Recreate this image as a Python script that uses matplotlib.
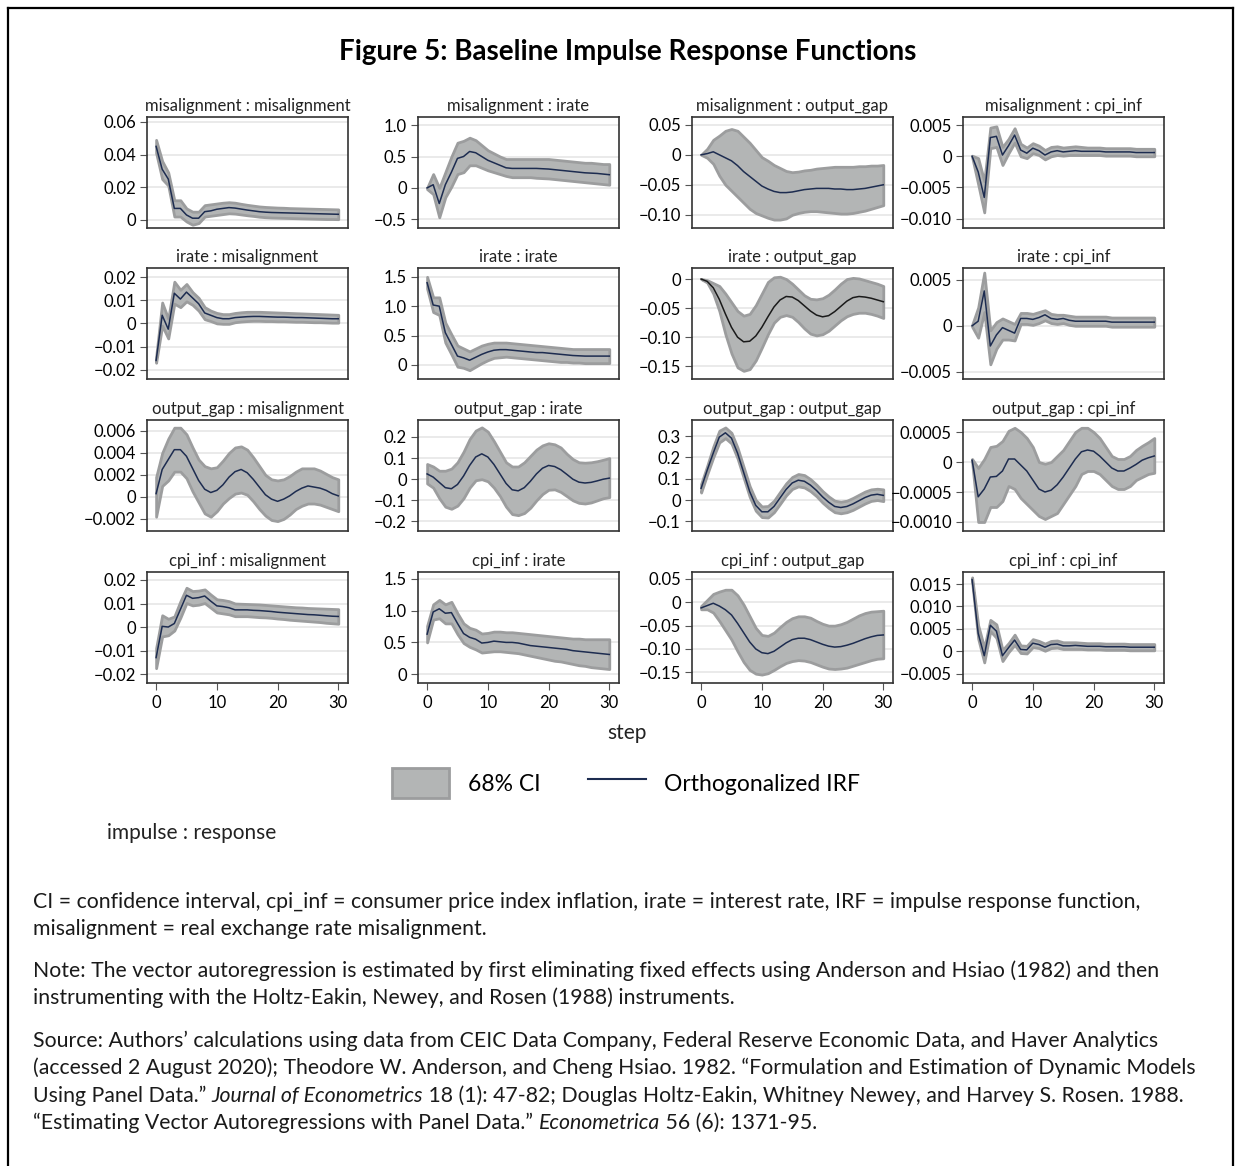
import numpy as np
import matplotlib
matplotlib.use("Agg")
import matplotlib.pyplot as plt
from matplotlib.patches import Patch
from matplotlib.lines import Line2D

plt.rcParams['font.family'] = ['Lato', 'DejaVu Sans']

steps = np.arange(0, 31)
xticks = [0, 10, 20, 30]

# --- impulse : response data (irf, lower, upper of 68% CI) ---
irf_mis_mis = [0.045, 0.031, 0.025, 0.007, 0.007, 0.003, 0.001, 0.001, 0.005, 0.0055, 0.0065, 0.007, 0.0075, 0.0072, 0.0066, 0.006,
               0.0055, 0.005, 0.0047, 0.0045, 0.0044, 0.0043, 0.0042, 0.0041, 0.004, 0.0039, 0.0038, 0.0037, 0.0036, 0.0035, 0.0034]
hi_mis_mis = [0.049, 0.036, 0.029, 0.012, 0.012, 0.007, 0.005, 0.005, 0.009, 0.0095, 0.010, 0.0105, 0.0108, 0.0105, 0.0098, 0.0092,
              0.0087, 0.0082, 0.0079, 0.0077, 0.0075, 0.0074, 0.0072, 0.0071, 0.007, 0.0069, 0.0068, 0.0067, 0.0066, 0.0065, 0.0064]
lo_mis_mis = [0.041, 0.025, 0.021, 0.002, 0.002, -0.001, -0.003, -0.002, 0.002, 0.0025, 0.003, 0.0035, 0.004, 0.0038, 0.0033, 0.0028,
              0.0024, 0.0019, 0.0016, 0.0014, 0.0013, 0.0012, 0.0011, 0.0010, 0.0009, 0.0008, 0.0007, 0.0006, 0.0005, 0.0005, 0.0004]

irf_mis_ir = [0.0, 0.05, -0.25, 0.05, 0.25, 0.47, 0.5, 0.58, 0.56, 0.5, 0.44, 0.4, 0.36, 0.32, 0.31, 0.31,
              0.31, 0.31, 0.31, 0.305, 0.3, 0.29, 0.28, 0.27, 0.26, 0.25, 0.24, 0.235, 0.23, 0.22, 0.21]
hi_mis_ir = [0.0, 0.22, 0.0, 0.25, 0.5, 0.72, 0.75, 0.8, 0.76, 0.68, 0.6, 0.55, 0.5, 0.46, 0.46, 0.46,
             0.46, 0.46, 0.46, 0.46, 0.46, 0.45, 0.44, 0.43, 0.42, 0.41, 0.4, 0.4, 0.39, 0.38, 0.38]
lo_mis_ir = [-0.02, -0.1, -0.47, -0.15, 0.02, 0.22, 0.25, 0.36, 0.36, 0.32, 0.28, 0.25, 0.22, 0.19, 0.17, 0.17,
             0.17, 0.17, 0.16, 0.155, 0.15, 0.14, 0.13, 0.12, 0.11, 0.1, 0.09, 0.08, 0.07, 0.06, 0.05]

irf_mis_og = [0.0, 0.002, 0.005, 0.0, -0.005, -0.01, -0.018, -0.028, -0.036, -0.044, -0.052, -0.057, -0.061, -0.063, -0.063, -0.062,
              -0.06, -0.058, -0.057, -0.056, -0.056, -0.056, -0.057, -0.057, -0.058, -0.058, -0.057, -0.056, -0.054, -0.052, -0.05]
hi_mis_og = [0.0, 0.01, 0.025, 0.032, 0.04, 0.043, 0.04, 0.03, 0.02, 0.008, -0.004, -0.01, -0.017, -0.022, -0.027, -0.029,
             -0.028, -0.026, -0.025, -0.023, -0.022, -0.021, -0.02, -0.02, -0.02, -0.02, -0.019, -0.019, -0.018, -0.018, -0.017]
lo_mis_og = [0.0, -0.005, -0.015, -0.035, -0.05, -0.06, -0.07, -0.08, -0.09, -0.097, -0.101, -0.105, -0.108, -0.108, -0.106, -0.1,
             -0.097, -0.095, -0.094, -0.094, -0.095, -0.096, -0.097, -0.098, -0.098, -0.097, -0.095, -0.093, -0.09, -0.087, -0.084]

irf_mis_cpi = [0.0, -0.0025, -0.0066, 0.003, 0.0032, 0.0002, 0.0017, 0.0034, 0.001, 0.0005, 0.0013, 0.0009, 0.0002, 0.0007, 0.0009, 0.0007,
               0.0008, 0.0009, 0.0008, 0.0008, 0.0008, 0.0008, 0.0007, 0.0007, 0.0007, 0.0007, 0.0007, 0.0006, 0.0006, 0.0006, 0.0006]
hi_mis_cpi = [0.0001, -0.0003, -0.004, 0.0046, 0.0048, 0.0015, 0.0028, 0.0045, 0.002, 0.0014, 0.0021, 0.0017, 0.001, 0.0015, 0.0016, 0.0014,
              0.0015, 0.0016, 0.0015, 0.0014, 0.0014, 0.0014, 0.0013, 0.0013, 0.0013, 0.0013, 0.0013, 0.0012, 0.0012, 0.0012, 0.0012]
lo_mis_cpi = [-0.0001, -0.0045, -0.009, 0.0013, 0.0015, -0.0014, 0.0005, 0.0022, 0.0, -0.0003, 0.0005, 0.0002, -0.0005, 0.0, 0.0002, 0.0001,
              0.0002, 0.0002, 0.0002, 0.0002, 0.0002, 0.0002, 0.0001, 0.0001, 0.0001, 0.0001, 0.0001, 0.0, 0.0, 0.0, 0.0]

irf_ir_mis = [-0.016, 0.0035, -0.0025, 0.013, 0.0105, 0.0135, 0.011, 0.0085, 0.0045, 0.0035, 0.0025, 0.002, 0.002, 0.0025, 0.0027, 0.0029,
              0.003, 0.003, 0.0029, 0.0028, 0.0027, 0.0027, 0.0026, 0.0025, 0.0025, 0.0024, 0.0023, 0.0022, 0.0021, 0.002, 0.002]
hi_ir_mis = [-0.0145, 0.009, 0.002, 0.018, 0.0145, 0.017, 0.0135, 0.011, 0.007, 0.0055, 0.0045, 0.004, 0.004, 0.0045, 0.0048, 0.005,
             0.005, 0.005, 0.0049, 0.0048, 0.0047, 0.0046, 0.0045, 0.0044, 0.0043, 0.0042, 0.0041, 0.004, 0.0039, 0.0038, 0.0037]
lo_ir_mis = [-0.017, -0.001, -0.0065, 0.0085, 0.007, 0.0095, 0.008, 0.0055, 0.0018, 0.001, 0.0, -0.0002, -0.0002, 0.0005, 0.0008, 0.001,
             0.0011, 0.0011, 0.001, 0.001, 0.0009, 0.0009, 0.0008, 0.0007, 0.0007, 0.0006, 0.0005, 0.0005, 0.0004, 0.0003, 0.0003]

irf_ir_ir = [1.4, 1.02, 1.0, 0.55, 0.35, 0.15, 0.12, 0.08, 0.13, 0.18, 0.22, 0.25, 0.26, 0.26, 0.25, 0.24,
             0.23, 0.22, 0.21, 0.21, 0.2, 0.19, 0.18, 0.17, 0.16, 0.155, 0.15, 0.15, 0.15, 0.15, 0.15]
hi_ir_ir = [1.5, 1.15, 1.15, 0.72, 0.52, 0.33, 0.28, 0.23, 0.28, 0.33, 0.36, 0.38, 0.38, 0.38, 0.37, 0.36,
            0.35, 0.34, 0.33, 0.32, 0.31, 0.3, 0.29, 0.28, 0.27, 0.27, 0.27, 0.27, 0.27, 0.27, 0.27]
lo_ir_ir = [1.3, 0.9, 0.85, 0.38, 0.18, -0.03, -0.05, -0.09, -0.03, 0.03, 0.08, 0.12, 0.13, 0.14, 0.13, 0.12,
            0.11, 0.1, 0.09, 0.08, 0.07, 0.06, 0.05, 0.05, 0.04, 0.04, 0.03, 0.03, 0.03, 0.03, 0.03]

irf_ir_og = [0.0, -0.004, -0.015, -0.035, -0.06, -0.083, -0.1, -0.108, -0.107, -0.098, -0.083, -0.065, -0.048, -0.036, -0.03, -0.031,
             -0.037, -0.046, -0.055, -0.062, -0.065, -0.063, -0.056, -0.047, -0.038, -0.032, -0.03, -0.031, -0.033, -0.036, -0.039]
hi_ir_og = [0.0, -0.002, -0.007, -0.012, -0.025, -0.04, -0.055, -0.063, -0.06, -0.045, -0.025, -0.005, 0.003, 0.004, 0.0, -0.008,
            -0.018, -0.028, -0.034, -0.035, -0.033, -0.027, -0.018, -0.008, 0.0, 0.002, 0.001, -0.002, -0.005, -0.008, -0.012]
lo_ir_og = [0.0, -0.006, -0.025, -0.055, -0.095, -0.128, -0.152, -0.158, -0.155, -0.14, -0.118, -0.095, -0.075, -0.065, -0.062, -0.065,
            -0.074, -0.085, -0.094, -0.097, -0.095, -0.089, -0.08, -0.071, -0.064, -0.06, -0.058, -0.058, -0.06, -0.063, -0.067]

irf_ir_cpi = [0.0, 0.0005, 0.0038, -0.0022, -0.001, -0.0002, -0.0005, -0.0008, 0.0008, 0.0008, 0.0007, 0.0009, 0.0012, 0.0008, 0.0007, 0.0008,
              0.0006, 0.0005, 0.0005, 0.0005, 0.0005, 0.0005, 0.0005, 0.0004, 0.0004, 0.0004, 0.0004, 0.0004, 0.0004, 0.0004, 0.0004]
hi_ir_cpi = [0.0001, 0.002, 0.0058, -0.0005, 0.0004, 0.0008, 0.0005, 0.0002, 0.0014, 0.0014, 0.0013, 0.0015, 0.0017, 0.0013, 0.0012, 0.0012,
             0.0011, 0.001, 0.001, 0.001, 0.001, 0.001, 0.001, 0.0009, 0.0009, 0.0009, 0.0009, 0.0009, 0.0009, 0.0009, 0.0009]
lo_ir_cpi = [-0.0001, -0.0013, 0.0015, -0.0042, -0.0025, -0.0015, -0.0015, -0.0016, 0.0002, 0.0002, 0.0001, 0.0003, 0.0006, 0.0003, 0.0002, 0.0003,
             0.0001, 0.0, 0.0, 0.0, 0.0, 0.0, 0.0, -0.0001, -0.0001, -0.0001, -0.0001, -0.0001, -0.0001, -0.0001, -0.0001]

irf_og_mis = [0.0003, 0.0025, 0.0034, 0.0043, 0.0043, 0.0037, 0.0026, 0.0015, 0.0007, 0.0004, 0.0006, 0.0011, 0.0018, 0.0023, 0.0025, 0.0022,
              0.0016, 0.0009, 0.0002, -0.0002, -0.0004, -0.0002, 0.0001, 0.0005, 0.0008, 0.001, 0.0009, 0.0008, 0.0006, 0.0003, 0.0001]
hi_og_mis = [0.0018, 0.004, 0.0053, 0.0063, 0.0063, 0.0057, 0.0045, 0.0034, 0.0028, 0.0026, 0.0027, 0.0033, 0.004, 0.0045, 0.0046, 0.0043,
             0.0036, 0.0028, 0.002, 0.0016, 0.0015, 0.0016, 0.0019, 0.0023, 0.0026, 0.0026, 0.0026, 0.0024, 0.0021, 0.0018, 0.0016]
lo_og_mis = [-0.0018, 0.001, 0.0015, 0.0023, 0.0023, 0.0017, 0.0005, -0.0005, -0.0015, -0.0018, -0.0013, -0.0006, -0.0001, 0.0003, 0.0004, 0.0002,
             -0.0004, -0.0011, -0.0017, -0.0021, -0.0022, -0.002, -0.0016, -0.0011, -0.0008, -0.0006, -0.0006, -0.0007, -0.0009, -0.0011, -0.0013]

irf_og_ir = [0.025, 0.01, -0.015, -0.04, -0.045, -0.025, 0.015, 0.065, 0.105, 0.12, 0.105, 0.07, 0.025, -0.02, -0.05, -0.055,
             -0.04, -0.01, 0.025, 0.052, 0.065, 0.06, 0.045, 0.023, 0.0, -0.014, -0.018, -0.015, -0.008, 0.0, 0.005]
hi_og_ir = [0.072, 0.06, 0.04, 0.04, 0.05, 0.08, 0.13, 0.19, 0.23, 0.245, 0.225, 0.18, 0.13, 0.08, 0.06, 0.06,
            0.08, 0.11, 0.14, 0.16, 0.17, 0.165, 0.15, 0.12, 0.095, 0.08, 0.078, 0.08, 0.085, 0.092, 0.1]
lo_og_ir = [-0.02, -0.04, -0.09, -0.13, -0.14, -0.125, -0.09, -0.04, -0.005, 0.0, -0.01, -0.04, -0.08, -0.13, -0.165, -0.17,
            -0.16, -0.135, -0.1, -0.07, -0.05, -0.048, -0.06, -0.08, -0.1, -0.112, -0.115, -0.11, -0.1, -0.09, -0.085]

irf_og_og = [0.055, 0.14, 0.22, 0.295, 0.315, 0.29, 0.22, 0.13, 0.04, -0.025, -0.055, -0.055, -0.03, 0.01, 0.05, 0.08,
             0.093, 0.088, 0.07, 0.045, 0.015, -0.01, -0.03, -0.035, -0.03, -0.018, -0.003, 0.012, 0.023, 0.027, 0.022]
hi_og_og = [0.075, 0.16, 0.25, 0.325, 0.34, 0.315, 0.245, 0.155, 0.065, 0.0, -0.03, -0.028, -0.003, 0.038, 0.078, 0.108,
            0.122, 0.117, 0.098, 0.072, 0.042, 0.017, -0.003, -0.008, -0.003, 0.01, 0.025, 0.04, 0.05, 0.053, 0.05]
lo_og_og = [0.035, 0.12, 0.2, 0.27, 0.29, 0.265, 0.195, 0.105, 0.015, -0.05, -0.08, -0.082, -0.057, -0.018, 0.022, 0.052,
            0.064, 0.059, 0.042, 0.018, -0.012, -0.037, -0.057, -0.062, -0.057, -0.046, -0.031, -0.016, -0.004, 0.0, -0.005]

irf_og_cpi = [0.00003, -0.00058, -0.00045, -0.00025, -0.00024, -0.00015, 0.00005, 0.00005, -0.00005, -0.00015, -0.0003, -0.00045, -0.0005, -0.00047, -0.00038, -0.00025,
              -0.0001, 0.00005, 0.00017, 0.0002, 0.00018, 0.0001, 0.0, -0.0001, -0.00015, -0.00015, -0.0001, -0.00004, 0.00003, 0.00007, 0.0001]
hi_og_cpi = [0.00005, -0.0001, 0.00005, 0.00025, 0.00027, 0.00035, 0.00052, 0.00057, 0.0005, 0.0004, 0.00025, 0.0, -0.00003, 0.0, 0.0001, 0.0002,
             0.00035, 0.0005, 0.00057, 0.00057, 0.0005, 0.0004, 0.00025, 0.0001, 0.00005, 0.00005, 0.0001, 0.0002, 0.00027, 0.00033, 0.0004]
lo_og_cpi = [0.0, -0.001, -0.001, -0.00075, -0.00075, -0.00065, -0.0004, -0.00045, -0.0006, -0.0007, -0.0008, -0.0009, -0.00095, -0.0009, -0.00085, -0.0007,
             -0.00055, -0.0004, -0.0002, -0.00015, -0.00015, -0.0002, -0.0003, -0.0004, -0.00045, -0.00045, -0.0004, -0.0003, -0.00025, -0.0002, -0.00018]

irf_cpi_mis = [-0.013, 0.0003, 0.0, 0.0015, 0.0075, 0.0135, 0.0122, 0.0125, 0.0132, 0.011, 0.009, 0.0087, 0.0082, 0.0073, 0.0073, 0.0073,
               0.0071, 0.007, 0.0068, 0.0066, 0.0063, 0.0061, 0.0059, 0.0057, 0.0055, 0.0053, 0.0052, 0.005, 0.0048, 0.0046, 0.0045]
hi_cpi_mis = [-0.009, 0.005, 0.0035, 0.0045, 0.011, 0.0167, 0.0153, 0.0155, 0.016, 0.0138, 0.0118, 0.0115, 0.011, 0.01, 0.0099, 0.0098,
              0.0097, 0.0096, 0.0094, 0.0092, 0.009, 0.0088, 0.0086, 0.0084, 0.0083, 0.0081, 0.008, 0.0079, 0.0078, 0.0077, 0.0076]
lo_cpi_mis = [-0.0175, -0.004, -0.0035, -0.0015, 0.004, 0.0102, 0.0092, 0.0095, 0.0102, 0.0082, 0.0062, 0.0058, 0.0054, 0.0046, 0.0046, 0.0046,
              0.0044, 0.0042, 0.0041, 0.0039, 0.0036, 0.0034, 0.0031, 0.0029, 0.0027, 0.0025, 0.0023, 0.0021, 0.0018, 0.0016, 0.0014]

irf_cpi_ir = [0.63, 0.98, 1.03, 0.96, 0.97, 0.8, 0.64, 0.58, 0.55, 0.49, 0.5, 0.52, 0.51, 0.5, 0.5, 0.49,
              0.47, 0.45, 0.44, 0.43, 0.42, 0.41, 0.4, 0.39, 0.37, 0.36, 0.35, 0.34, 0.33, 0.32, 0.31]
hi_cpi_ir = [0.76, 1.1, 1.17, 1.1, 1.14, 0.96, 0.8, 0.73, 0.7, 0.64, 0.65, 0.67, 0.67, 0.66, 0.66, 0.65,
             0.64, 0.63, 0.62, 0.61, 0.6, 0.59, 0.58, 0.57, 0.56, 0.56, 0.55, 0.55, 0.55, 0.55, 0.55]
lo_cpi_ir = [0.5, 0.86, 0.88, 0.8, 0.8, 0.63, 0.49, 0.43, 0.39, 0.34, 0.35, 0.36, 0.36, 0.35, 0.34, 0.33,
             0.31, 0.29, 0.27, 0.25, 0.23, 0.21, 0.2, 0.18, 0.16, 0.14, 0.13, 0.11, 0.1, 0.09, 0.08]

irf_cpi_og = [-0.012, -0.007, -0.002, -0.008, -0.016, -0.027, -0.045, -0.065, -0.085, -0.1, -0.108, -0.11, -0.105, -0.096, -0.087, -0.08,
              -0.077, -0.077, -0.08, -0.085, -0.09, -0.094, -0.096, -0.095, -0.092, -0.088, -0.083, -0.078, -0.074, -0.071, -0.07]
hi_cpi_og = [-0.008, 0.005, 0.018, 0.023, 0.027, 0.027, 0.015, -0.005, -0.03, -0.055, -0.07, -0.072, -0.065, -0.053, -0.042, -0.034,
             -0.03, -0.03, -0.033, -0.04, -0.046, -0.05, -0.05, -0.047, -0.042, -0.035, -0.028, -0.023, -0.02, -0.019, -0.018]
lo_cpi_og = [-0.015, -0.015, -0.022, -0.04, -0.06, -0.08, -0.105, -0.128, -0.145, -0.153, -0.155, -0.152, -0.145, -0.137, -0.13, -0.126,
             -0.124, -0.125, -0.128, -0.133, -0.138, -0.142, -0.143, -0.142, -0.14, -0.136, -0.132, -0.128, -0.124, -0.121, -0.12]

irf_cpi_cpi = [0.016, 0.004, -0.001, 0.0058, 0.0045, -0.001, 0.0008, 0.0025, 0.0004, 0.0003, 0.0018, 0.0015, 0.0009, 0.0015, 0.0016, 0.0012,
               0.0012, 0.0013, 0.0012, 0.0011, 0.0011, 0.0011, 0.001, 0.001, 0.001, 0.001, 0.0009, 0.0009, 0.0009, 0.0009, 0.0009]
hi_cpi_cpi = [0.0165, 0.0058, 0.0008, 0.007, 0.006, 0.0003, 0.0018, 0.0037, 0.0013, 0.0012, 0.0027, 0.0023, 0.0017, 0.0023, 0.0024, 0.002,
              0.002, 0.002, 0.0019, 0.0018, 0.0018, 0.0018, 0.0017, 0.0017, 0.0017, 0.0017, 0.0016, 0.0016, 0.0016, 0.0016, 0.0016]
lo_cpi_cpi = [0.0155, 0.0028, -0.0025, 0.0045, 0.003, -0.0022, -0.0002, 0.0014, -0.0004, -0.0005, 0.0009, 0.0007, 0.0001, 0.0007, 0.0008, 0.0005,
              0.0005, 0.0005, 0.0005, 0.0004, 0.0004, 0.0004, 0.0003, 0.0003, 0.0003, 0.0003, 0.0002, 0.0002, 0.0002, 0.0002, 0.0002]

titles = ["misalignment : misalignment", "misalignment : irate", "misalignment : output_gap", "misalignment : cpi_inf",
          "irate : misalignment", "irate : irate", "irate : output_gap", "irate : cpi_inf",
          "output_gap : misalignment", "output_gap : irate", "output_gap : output_gap", "output_gap : cpi_inf",
          "cpi_inf : misalignment", "cpi_inf : irate", "cpi_inf : output_gap", "cpi_inf : cpi_inf"]

irfs = [irf_mis_mis, irf_mis_ir, irf_mis_og, irf_mis_cpi, irf_ir_mis, irf_ir_ir, irf_ir_og, irf_ir_cpi,
        irf_og_mis, irf_og_ir, irf_og_og, irf_og_cpi, irf_cpi_mis, irf_cpi_ir, irf_cpi_og, irf_cpi_cpi]
los = [lo_mis_mis, lo_mis_ir, lo_mis_og, lo_mis_cpi, lo_ir_mis, lo_ir_ir, lo_ir_og, lo_ir_cpi,
       lo_og_mis, lo_og_ir, lo_og_og, lo_og_cpi, lo_cpi_mis, lo_cpi_ir, lo_cpi_og, lo_cpi_cpi]
his = [hi_mis_mis, hi_mis_ir, hi_mis_og, hi_mis_cpi, hi_ir_mis, hi_ir_ir, hi_ir_og, hi_ir_cpi,
       hi_og_mis, hi_og_ir, hi_og_og, hi_og_cpi, hi_cpi_mis, hi_cpi_ir, hi_cpi_og, hi_cpi_cpi]

yticks = [[0, 0.02, 0.04, 0.06], [-0.5, 0, 0.5, 1.0], [-0.10, -0.05, 0, 0.05], [-0.010, -0.005, 0, 0.005],
          [-0.02, -0.01, 0, 0.01, 0.02], [0, 0.5, 1.0, 1.5], [-0.15, -0.10, -0.05, 0], [-0.005, 0, 0.005],
          [-0.002, 0, 0.002, 0.004, 0.006], [-0.2, -0.1, 0, 0.1, 0.2], [-0.1, 0, 0.1, 0.2, 0.3], [-0.0010, -0.0005, 0, 0.0005],
          [-0.02, -0.01, 0, 0.01, 0.02], [0, 0.5, 1.0, 1.5], [-0.15, -0.10, -0.05, 0, 0.05], [-0.005, 0, 0.005, 0.010, 0.015]]
ydec = [2, 1, 2, 3, 2, 1, 2, 3, 3, 1, 1, 4, 2, 1, 2, 3]
ylims = [(-0.005, 0.063), (-0.64, 1.13), (-0.122, 0.063), (-0.0115, 0.0063),
         (-0.024, 0.0239), (-0.24, 1.65), (-0.172, 0.019), (-0.0058, 0.0063),
         (-0.0031, 0.007), (-0.245, 0.28), (-0.145, 0.375), (-0.00115, 0.0007),
         (-0.0238, 0.0234), (-0.14, 1.61), (-0.173, 0.065), (-0.0071, 0.0177)]

W, H = 1241, 1166
col_left = [147, 418, 692, 963]
row_top = [117, 268, 420, 572]
ax_w, ax_h = 201, 111

fill_c = "#b3b5b5"
edge_c = "#9c9d9e"
line_c = "#1d2c50"
spine_c = "#333333"


def fmt(v, nd):
    if v == 0:
        return "0"
    s = f"{abs(v):.{nd}f}"
    return ("\u2212" + s) if v < 0 else s


fig = plt.figure(figsize=(W / 100, H / 100), dpi=100)
fig.patch.set_facecolor("white")

for i in range(16):
    r, c = divmod(i, 4)
    ax = fig.add_axes([col_left[c] / W, 1 - (row_top[r] + ax_h) / H, ax_w / W, ax_h / H])
    ax.fill_between(steps, los[i], his[i], facecolor=fill_c, edgecolor=edge_c, linewidth=2, zorder=2)
    lc = "#1a1a1a" if i == 6 else line_c
    ax.plot(steps, irfs[i], color=lc, linewidth=1.1, zorder=3)
    ax.set_xlim(-1.5, 31.6)
    ax.set_ylim(*ylims[i])
    ax.set_yticks(yticks[i])
    ax.set_yticklabels([fmt(v, ydec[i]) for v in yticks[i]])
    ax.grid(axis="y", color="#e6e6e6", linewidth=1.2, zorder=0)
    ax.set_axisbelow(True)
    ax.tick_params(axis="y", length=5, width=0.8, color="#555555", labelsize=12, pad=3)
    if r == 3:
        ax.set_xticks(xticks)
        ax.set_xticklabels([str(v) for v in xticks])
        ax.tick_params(axis="x", length=5, width=0.8, color="#555555", labelsize=12, pad=4)
    else:
        ax.set_xticks([])
    for sp in ax.spines.values():
        sp.set_color(spine_c)
        sp.set_linewidth(1.2)
    ax.set_title(titles[i], fontsize=12, pad=4, color="#222222")

fig.text(628 / W, 1 - 52 / H, "Figure 5: Baseline Impulse Response Functions",
         ha="center", va="center", fontsize=20, fontweight="bold", color="black")

fig.text(627 / W, 1 - 733 / H, "step", ha="center", va="center", fontsize=15, color="#222222")

handles = [Patch(facecolor=fill_c, edgecolor=edge_c, linewidth=2),
           Line2D([0], [0], color=line_c, linewidth=1.5)]
fig.legend(handles, ["68% CI", "Orthogonalized IRF"], loc="center", bbox_to_anchor=(626 / W, 1 - 783 / H),
           ncol=2, frameon=False, fontsize=16.5, handlelength=2.5, handleheight=1.6, columnspacing=2.1,
           handletextpad=0.8)

fig.text(107 / W, 1 - 833 / H, "impulse : response", ha="left", va="center", fontsize=15, color="#222222")

notes = [
    (902, [("CI = confidence interval, cpi_inf = consumer price index inflation, irate = interest rate, IRF = impulse response function,", "normal")]),
    (929, [("misalignment = real exchange rate misalignment.", "normal")]),
    (971, [("Note: The vector autoregression is estimated by first eliminating fixed effects using Anderson and Hsiao (1982) and then", "normal")]),
    (998, [("instrumenting with the Holtz-Eakin, Newey, and Rosen (1988) instruments.", "normal")]),
    (1041, [("Source: Authors\u2019 calculations using data from CEIC Data Company, Federal Reserve Economic Data, and Haver Analytics", "normal")]),
    (1068, [("(accessed 2 August 2020); Theodore W. Anderson, and Cheng Hsiao. 1982. \u201cFormulation and Estimation of Dynamic Models", "normal")]),
    (1096, [("Using Panel Data.\u201d ", "normal"), ("Journal of Econometrics", "italic"),
            (" 18 (1): 47-82; Douglas Holtz-Eakin, Whitney Newey, and Harvey S. Rosen. 1988.", "normal")]),
    (1123, [("\u201cEstimating Vector Autoregressions with Panel Data.\u201d ", "normal"), ("Econometrica", "italic"),
            (" 56 (6): 1371-95.", "normal")]),
]

renderer = fig.canvas.get_renderer()
for y, segs in notes:
    x = 33
    for txt, st in segs:
        t = fig.text(x / W, 1 - y / H, txt, ha="left", va="center", fontsize=15.3, style=st, color="#1a1a1a")
        bb = t.get_window_extent(renderer)
        x = bb.x1

# frame around the figure
fig.add_artist(Line2D([8 / W, 8 / W], [0, 1 - 8 / H], color="black", linewidth=1.6))
fig.add_artist(Line2D([8 / W, 1233 / W], [1 - 8 / H, 1 - 8 / H], color="black", linewidth=1.6))
fig.add_artist(Line2D([1233 / W, 1233 / W], [0, 1 - 8 / H], color="black", linewidth=1.6))

fig.savefig("out.png", dpi=100)
